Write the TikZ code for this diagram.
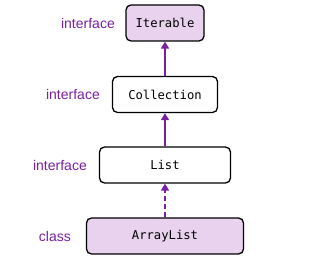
\documentclass[tikz,border=0pt]{standalone}
\usepackage{fontspec}
\setmainfont{Liberation Sans}
\newfontfamily\boxfont{DejaVu Sans Mono}
\usetikzlibrary{arrows.meta}
\definecolor{lbl}{HTML}{7B1FA2}
\definecolor{lightfill}{HTML}{E8D2EE}
\tikzset{
  cbox/.style={draw=black, line width=1.3pt, rounded corners=5pt, minimum height=36pt, inner sep=0pt, font=\boxfont\fontsize{12.2}{14}\selectfont},
  kind/.style={text=lbl, anchor=east, inner sep=0pt, font=\fontsize{14}{16}\selectfont},
  inh/.style={draw=lbl, line width=1.5pt, -{Triangle[length=7pt,width=8pt]}},
}
\begin{document}
\begin{tikzpicture}[x=1pt,y=-1pt]
\useasboundingbox (0,0) rectangle (330,275);
\node[cbox, fill=lightfill, minimum width=78pt] (iter) at (165,23) {Iterable};
\node[cbox, fill=white, minimum width=105pt] (coll) at (165,94.5) {Collection};
\node[cbox, fill=white, minimum width=131pt] (list) at (165,165) {List};
\node[cbox, fill=lightfill, minimum width=157pt] (alist) at (165,236) {ArrayList};
\node[kind] (k1) at (115,23) {interface};
\node[kind] (k2) at (100,94.5) {interface};
\node[kind] (k3) at (87,165) {interface};
\node[kind] (k4) at (71,236) {class};
\draw[inh] (coll.north) -- (iter.south);
\draw[inh] (list.north) -- (coll.south);
\draw[inh, dash pattern=on 5pt off 3pt] (alist.north) -- (list.south);
\end{tikzpicture}
\end{document}
